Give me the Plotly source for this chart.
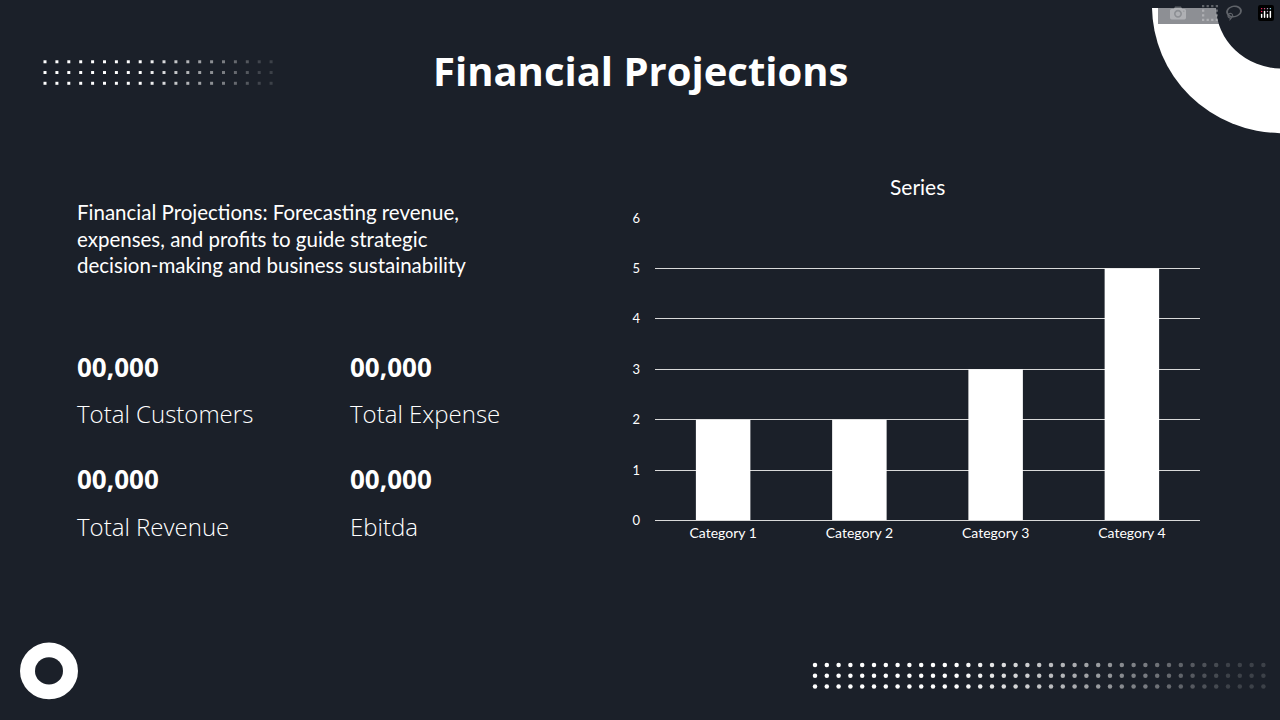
import plotly.graph_objects as go

categories = ["Category 1", "Category 2", "Category 3", "Category 4"]
values = [2, 2, 3, 5]
y_ticks = [0, 1, 2, 3, 4, 5, 6]
stats = [("00,000", "Total Customers"), ("00,000", "Total Expense"),
         ("00,000", "Total Revenue"), ("00,000", "Ebitda")]

BG = "#1b2029"
W, H = 1280, 720
fig = go.Figure()

def dots(x0, n, step, ys, fade_start):
    xs, yy, op = [], [], []
    for r in ys:
        for i in range(n):
            xs.append(x0 + i * step); yy.append(r)
            op.append(1.0 if i < fade_start else max(0.15, 1 - (i - fade_start) / (n - fade_start)))
    return xs, yy, op
for (x0, n, step, ys, size, fs) in [(45, 20, 11.9, [55, 66, 77], 3, 8), (815, 39, 11.8, [672, 683, 694], 4.5, 12)]:
    xs, yy, op = dots(x0, n, step, ys, fs)
    fig.add_trace(go.Scatter(x=xs, y=yy, mode="markers", xaxis="x2", yaxis="y2", hoverinfo="skip",
                             marker=dict(color=[f"rgba(255,255,255,{o:.2f})" for o in op], size=size,
                                         symbol="square" if size < 4 else "circle", line_width=0)))

fig.add_trace(go.Bar(x=categories, y=values, marker_color="white", marker_line_width=0,
                     xaxis="x", yaxis="y", hoverinfo="skip"))

shapes = [
    dict(type="circle", xref="x2", yref="y2", x0=1282-130, x1=1282+130, y0=-2-130, y1=-2+130, fillcolor="white", line_width=0, layer="below"),
    dict(type="circle", xref="x2", yref="y2", x0=1282-66, x1=1282+66, y0=-2-64, y1=-2+64, fillcolor=BG, line_width=0, layer="below"),
    dict(type="circle", xref="x2", yref="y2", x0=49-29, x1=49+29, y0=678-29, y1=678+29, fillcolor="white", line_width=0, layer="below"),
    dict(type="circle", xref="x2", yref="y2", x0=49-14, x1=49+14, y0=678-14, y1=678+14, fillcolor=BG, line_width=0, layer="below"),
]

ann = [
    dict(x=640, y=64, text="<b>Financial Projections</b>", font=dict(family="Open Sans", size=40, color="white")),
    dict(x=917, y=183, text="Series", font=dict(family="Lato", size=21, color="white")),
    dict(x=75, y=236, xanchor="left", align="left",
         text="Financial Projections: Forecasting revenue,<br>expenses, and profits to guide strategic<br>decision-making and business sustainability",
         font=dict(family="Lato", size=20.5, color="white"), **{"yanchor": "middle"}),
]
for i, (num, lab) in enumerate(stats):
    x = 75 if i % 2 == 0 else 348
    y = 367 if i < 2 else 482
    ann.append(dict(x=x, y=y, xanchor="left", text=f"<b>{num}</b>", font=dict(family="Open Sans", size=26, color="white")))
    ann.append(dict(x=x, y=y + 48, xanchor="left", text=lab, font=dict(family="Open Sans", size=24, color="white", weight=300)))
for a in ann:
    a.update(xref="x2", yref="y2", showarrow=False, yanchor="middle")
    a.setdefault("xanchor", "center")

fig.update_layout(
    width=W, height=H, margin=dict(l=0, r=0, t=0, b=0),
    paper_bgcolor=BG, plot_bgcolor="rgba(0,0,0,0)", showlegend=False,
    bargap=0.6, shapes=shapes, annotations=ann,
    xaxis=dict(domain=[655/W, 1200/W], anchor="y", showgrid=False, showline=True, linecolor="#d9d9d9", linewidth=1,
               tickfont=dict(family="Lato", size=14, color="white"), ticks="", fixedrange=True),
    yaxis=dict(domain=[1-524/H, 1-215/H], anchor="x", range=[0, 6], tickvals=y_ticks, gridcolor="#d9d9d9", gridwidth=1,
               zeroline=False, tickfont=dict(family="Lato", size=13, color="white"), ticklabelstandoff=14, fixedrange=True),
    xaxis2=dict(domain=[0, 1], anchor="y2", range=[0, W], visible=False, fixedrange=True),
    yaxis2=dict(domain=[0, 1], anchor="x2", range=[H, 0], visible=False, fixedrange=True),
)
fig.write_html("out.html", post_script="document.body.style.margin='0';document.body.style.overflow='hidden';")
